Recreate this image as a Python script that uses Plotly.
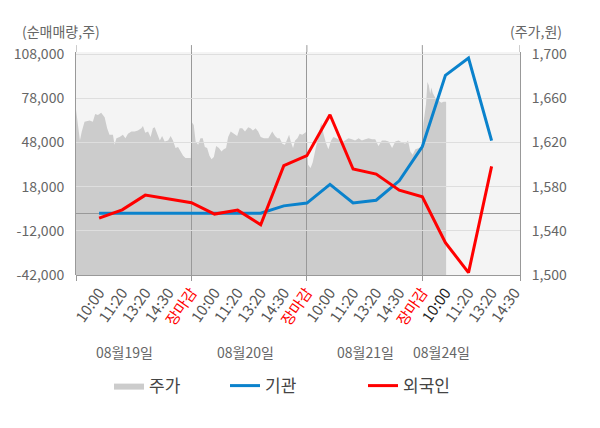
import plotly.graph_objects as go

# x axis: each trading day takes 5 slots, 장마감 sits on the day boundary
tick_labels = ['10:00', '11:20', '13:20', '14:30', '장마감'] * 3 + ['10:00', '11:20', '13:20', '14:30']
tick_pos = list(range(1, 20))
dates = ['08월19일', '08월20일', '08월21일', '08월24일']

# net buying (shares) at each checkpoint
flow_pos = list(range(1, 19))
inst = [0, 0, 0, 0, 0, 0, 0, 0, 5000, 6900, 19600, 7000, 8800, 22000, 45300, 93700, 105500, 49400]
foreign = [-3300, 2300, 12300, 9500, 7100, -600, 2100, -7900, 32300, 39100, 66900, 30000, 26600,
           15700, 11200, -20000, -40400, 31800]

# intraday price (won)
price_pos = [
    0.0, 0.11, 0.17, 0.25, 0.37, 0.59, 0.73, 0.83, 0.95, 1.09, 1.24, 1.35, 1.45, 1.60, 1.67, 1.75,
    1.89, 2.03, 2.14, 2.25, 2.40, 2.54, 2.68, 2.83, 2.90, 3.00, 3.12, 3.23, 3.33, 3.41, 3.53, 3.63,
    3.73, 3.84, 3.99, 4.10, 4.20, 4.31, 4.42, 4.54, 4.64, 4.74, 4.85, 4.97,
    5.00, 5.10, 5.18, 5.29, 5.39, 5.49, 5.58, 5.68, 5.78, 5.87, 5.97, 6.07, 6.19, 6.30, 6.40, 6.50,
    6.59, 6.70, 6.84, 6.98, 7.09, 7.20, 7.32, 7.46, 7.56, 7.66, 7.78, 7.89, 8.00, 8.14, 8.33, 8.43,
    8.50, 8.62, 8.72, 8.82, 8.94, 9.05, 9.15, 9.23, 9.30, 9.40, 9.49, 9.59, 9.69, 9.80, 9.92, 10.00,
    10.05, 10.16, 10.25, 10.33, 10.42, 10.51, 10.62, 10.72, 10.82, 10.93, 11.05, 11.15, 11.26, 11.37,
    11.52, 11.66, 11.80, 11.95, 12.09, 12.24, 12.38, 12.53, 12.67, 12.82, 12.96, 13.10, 13.25, 13.40,
    13.54, 13.69, 13.83, 13.97, 14.12, 14.26, 14.38, 14.48, 14.58, 14.70, 14.84, 14.99,
    15.05, 15.16, 15.22, 15.28, 15.34, 15.39, 15.45, 15.51, 15.60, 15.71, 15.82, 15.92, 16.03,
]
price = [
    1650, 1634, 1622, 1630, 1639, 1640, 1639, 1646, 1645, 1647, 1643, 1633, 1627, 1627, 1618, 1624,
    1625, 1627, 1624, 1628, 1630, 1630, 1631, 1633, 1635, 1629, 1630, 1625, 1633, 1634, 1628, 1622,
    1626, 1621, 1622, 1626, 1622, 1615, 1616, 1611, 1608, 1606, 1606, 1606,
    1639, 1636, 1621, 1618, 1624, 1624, 1616, 1615, 1608, 1605, 1607, 1617, 1615, 1612, 1614, 1615,
    1625, 1630, 1628, 1626, 1633, 1633, 1630, 1634, 1633, 1631, 1633, 1630, 1625, 1624, 1624, 1628,
    1630, 1626, 1624, 1624, 1619, 1618, 1624, 1627, 1621, 1615, 1622, 1624, 1628, 1627, 1629, 1630,
    1600, 1597, 1602, 1610, 1620, 1630, 1638, 1628, 1620, 1614, 1622, 1625, 1624, 1623,
    1620, 1622, 1624, 1623, 1622, 1624, 1622, 1623, 1624, 1623, 1623, 1617, 1622, 1622,
    1621, 1615, 1621, 1622, 1620, 1619, 1622, 1612, 1609, 1614, 1615, 1616,
    1638, 1655, 1675, 1672, 1664, 1670, 1665, 1662, 1659, 1658, 1656, 1657, 1657,
]

flow_ticks = [-42000, -12000, 18000, 48000, 78000, 108000]

X_END = 19.23
FONT = 'Noto Sans CJK KR'
AXIS = '#999999'

ticktext = []
for i, t in enumerate(tick_labels):
    if t == '장마감':
        ticktext.append('<span style="color:#ff0000">%s</span>' % t)
    elif i == 15:
        ticktext.append('<span style="color:#222222">%s</span>' % t)
    else:
        ticktext.append(t)

fig = go.Figure()
fig.add_trace(go.Scatter(x=price_pos, y=price, name='주가', mode='lines', fill='tozeroy',
                         fillcolor='#cccccc', line=dict(width=0, color='#cccccc'),
                         xaxis='x', yaxis='y', legend='legend', showlegend=True))
fig.add_trace(go.Scatter(x=flow_pos, y=inst, name='기관', mode='lines',
                         line=dict(color='#0a82cc', width=3), xaxis='x2', yaxis='y2', legend='legend2'))
fig.add_trace(go.Scatter(x=flow_pos, y=foreign, name='외국인', mode='lines',
                         line=dict(color='#ff0000', width=3), xaxis='x2', yaxis='y2', legend='legend3'))

legend_style = dict(orientation='h', yanchor='middle', y=-0.498, xanchor='left',
                    bgcolor='rgba(0,0,0,0)', font=dict(size=17, color='#444444'))

# the page body adds 8px around the figure, so the figure is 8px smaller
fig.update_layout(
    width=592, height=420,
    margin=dict(l=68, r=80, t=44, b=153, autoexpand=False),
    paper_bgcolor='white', plot_bgcolor='rgba(0,0,0,0)',
    font=dict(family=FONT, color='#666666'),
    showlegend=True,
    legend=dict(legend_style, x=0.0743),
    legend2=dict(legend_style, x=0.3356),
    legend3=dict(legend_style, x=0.6464),
    xaxis=dict(domain=[0, 1], anchor='y', range=[0, X_END], tickmode='array', tickvals=tick_pos,
               ticktext=ticktext, tickangle=-55, tickfont=dict(size=15, color='#555555'),
               showgrid=False, zeroline=False, showline=True, linecolor=AXIS, ticks='',
               ticklabelstandoff=2),
    yaxis=dict(anchor='x', side='right', range=[1500, 1702.1], tick0=1500, dtick=40,
               tickformat=',', showgrid=False, zeroline=False, showline=True, linecolor=AXIS,
               tickfont=dict(size=14, color='#666666'), ticklabelstandoff=8),
    xaxis2=dict(domain=[0, 1], anchor='y2', range=[0, X_END], tickmode='array',
                tickvals=[0, 5, 10, 15, X_END], showticklabels=False, ticks='outside', ticklen=5,
                tickcolor=AXIS, showgrid=True, gridcolor=AXIS, zeroline=False, showline=False),
    yaxis2=dict(anchor='x2', side='left', range=[-42000, 109570], tickmode='array',
                tickvals=flow_ticks, ticktext=['{:,}'.format(v) for v in flow_ticks],
                showgrid=True, gridcolor='#dedede', zeroline=True, zerolinecolor=AXIS,
                zerolinewidth=1, showline=True, linecolor=AXIS,
                tickfont=dict(size=14, color='#666666'), ticklabelstandoff=8),
)

# plot background sits under both stacked subplots
fig.add_shape(type='rect', xref='paper', yref='paper', x0=0, x1=1, y0=0, y1=1,
              fillcolor='#f4f4f4', line=dict(width=0), layer='below')

# short stubs of the vertical lines above the plot area
for xv in [0, 5, 10, 15, X_END]:
    fig.add_shape(type='line', xref='x2', yref='paper', x0=xv, x1=xv, y0=1, y1=1.031,
                  line=dict(color=AXIS, width=1))

for d, xv in zip(dates, [2.12, 7.32, 12.52, 15.85]):
    fig.add_annotation(text=d, xref='x2', yref='paper', x=xv, y=-0.345, showarrow=False,
                       xanchor='center', yanchor='middle', font=dict(size=14, color='#666666'))

fig.add_annotation(text='(순매매량,주)', xref='paper', yref='paper', x=-0.034, y=1.094,
                   xanchor='center', yanchor='middle', showarrow=False,
                   font=dict(size=14, color='#666666'))
fig.add_annotation(text='(주가,원)', xref='paper', yref='paper', x=1.035, y=1.094,
                   xanchor='center', yanchor='middle', showarrow=False,
                   font=dict(size=14, color='#666666'))

fig.write_html("out.html")
